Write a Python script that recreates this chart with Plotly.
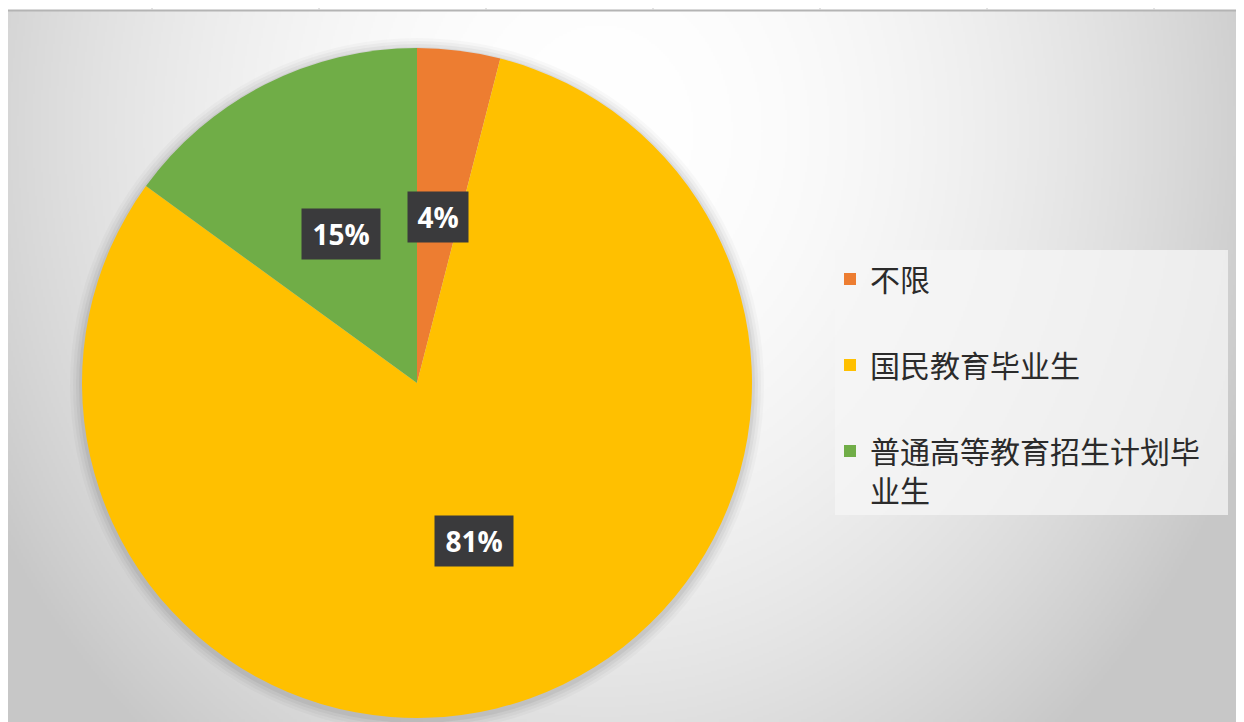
import base64
import struct
import zlib

import numpy as np
import plotly.graph_objects as go

# ---------------- data ----------------
categories = ["不限", "国民教育毕业生", "普通高等教育招生计划毕业生"]
legend_labels = ["不限", "国民教育毕业生", "普通高等教育招生计划毕<br>业生"]
values = [4, 81, 15]
colors = ["#ED7D31", "#FFC000", "#70AD47"]

# page body has an 8px margin; the figure is sized to fill the rest
OFF = 8
W, H = 1244 - OFF, 722 - OFF


def fx(px):  # page pixel x -> paper x
    return (px - OFF) / W


def fy(py):  # page pixel y -> paper y
    return 1 - (py - OFF) / H


# pie placement (page pixels)
PIE_L, PIE_R, PIE_T, PIE_B = 82, 752, 48, 718
cx_px = (PIE_L + PIE_R) / 2
cy_px = (PIE_T + PIE_B) / 2
R_px = (PIE_R - PIE_L) / 2


# ---------------- background gradient image ----------------
def png_data_uri(arr):
    h, w, _ = arr.shape
    raw = b"".join(b"\x00" + arr[i].tobytes() for i in range(h))

    def chunk(t, d):
        c = struct.pack(">I", len(d)) + t + d
        return c + struct.pack(">I", zlib.crc32(t + d) & 0xFFFFFFFF)

    png = (b"\x89PNG\r\n\x1a\n"
           + chunk(b"IHDR", struct.pack(">IIBBBBB", w, h, 8, 2, 0, 0, 0))
           + chunk(b"IDAT", zlib.compress(raw, 9))
           + chunk(b"IEND", b""))
    return "data:image/png;base64," + base64.b64encode(png).decode()


BG_Y0 = 11
gw, gh = W // 2, (722 - BG_Y0) // 2
xs = OFF + np.arange(gw) * 2
ys = BG_Y0 + np.arange(gh) * 2
XX, YY = np.meshgrid(xs, ys)
d = np.sqrt(((XX - 600) / 700.0) ** 2 + ((YY - 130) / 800.0) ** 2)
v = 255 - 56 * d ** 2
v = np.clip(v, 199, 255).astype(np.uint8)
img = np.stack([v, v, v], axis=2)
bg_uri = png_data_uri(img)

# ---------------- figure ----------------
fig = go.Figure()

fig.add_trace(go.Pie(
    labels=categories,
    values=values,
    marker=dict(colors=colors, line=dict(width=0)),
    sort=False,
    direction="clockwise",
    rotation=0,
    textinfo="none",
    hoverinfo="label+percent",
    showlegend=False,
    domain=dict(x=[fx(PIE_L), fx(PIE_R)], y=[fy(PIE_B), fy(PIE_T)]),
))

# legend entries
for i, (lab, col) in enumerate(zip(legend_labels, colors)):
    fig.add_trace(go.Scatter(
        x=[None], y=[None], mode="markers", name=lab,
        marker=dict(symbol="square", size=14, color=col),
        legendgroup=f"g{i}", showlegend=True, hoverinfo="skip",
    ))

# data labels, positioned at the middle angle of each slice
total = sum(values)
cum = 0
annotations = []
for val in values:
    mid = (cum + val / 2) / total * 2 * np.pi
    cum += val
    px = cx_px + 0.5 * R_px * np.sin(mid)
    py = cy_px - 0.5 * R_px * np.cos(mid)
    txt = f"{round(val / total * 100)}%"
    annotations.append(dict(
        x=fx(px), y=fy(py), xref="paper", yref="paper",
        text=txt, showarrow=False,
        font=dict(family="Open Sans", size=28, color="white", weight="bold"),
        bgcolor="#3a3a3c", borderpad=6,
        width=18 * len(txt) + 12, height=38,
        xanchor="center", yanchor="middle",
    ))

shapes = []
# pie soft shadow
for k, a in [(12, 0.025), (9, 0.03), (6, 0.04), (3, 0.05)]:
    r = R_px + k
    shapes.append(dict(
        type="circle", xref="paper", yref="paper", layer="below",
        x0=fx(cx_px - r), x1=fx(cx_px + r),
        y0=fy(cy_px + r + 2), y1=fy(cy_px - r + 2),
        fillcolor=f"rgba(0,0,0,{a})", line=dict(width=0),
    ))
# legend box
shapes.append(dict(
    type="rect", xref="paper", yref="paper", layer="below",
    x0=fx(835), x1=fx(1228), y0=fy(515), y1=fy(250),
    fillcolor="rgba(245,245,245,0.75)", line=dict(width=0),
))
# top frame line with ticks
shapes.append(dict(
    type="line", xref="paper", yref="paper",
    x0=0, x1=1, y0=fy(10.5), y1=fy(10.5),
    line=dict(color="#b4b4b4", width=2),
))
for tx in range(152, 1244, 167):
    shapes.append(dict(
        type="line", xref="paper", yref="paper",
        x0=fx(tx), x1=fx(tx), y0=fy(9.5), y1=fy(8),
        line=dict(color="#c8c8c8", width=1),
    ))

fig.update_layout(
    width=W, height=H,
    margin=dict(l=0, r=0, t=0, b=0),
    paper_bgcolor="white",
    plot_bgcolor="rgba(0,0,0,0)",
    xaxis=dict(visible=False),
    yaxis=dict(visible=False),
    images=[dict(
        source=bg_uri, xref="paper", yref="paper",
        x=0, y=fy(BG_Y0),
        sizex=1, sizey=fy(BG_Y0),
        xanchor="left", yanchor="top", sizing="stretch", layer="below",
    )],
    shapes=shapes,
    annotations=annotations,
    legend=dict(
        x=fx(830), y=fy(253), xanchor="left", yanchor="top",
        bgcolor="rgba(0,0,0,0)",
        font=dict(family="Noto Sans CJK SC", size=30, color="#2b2b2b"),
        tracegroupgap=44, valign="top", itemsizing="constant",
    ),
    hovermode=False,
)

fig.write_html("out.html")
